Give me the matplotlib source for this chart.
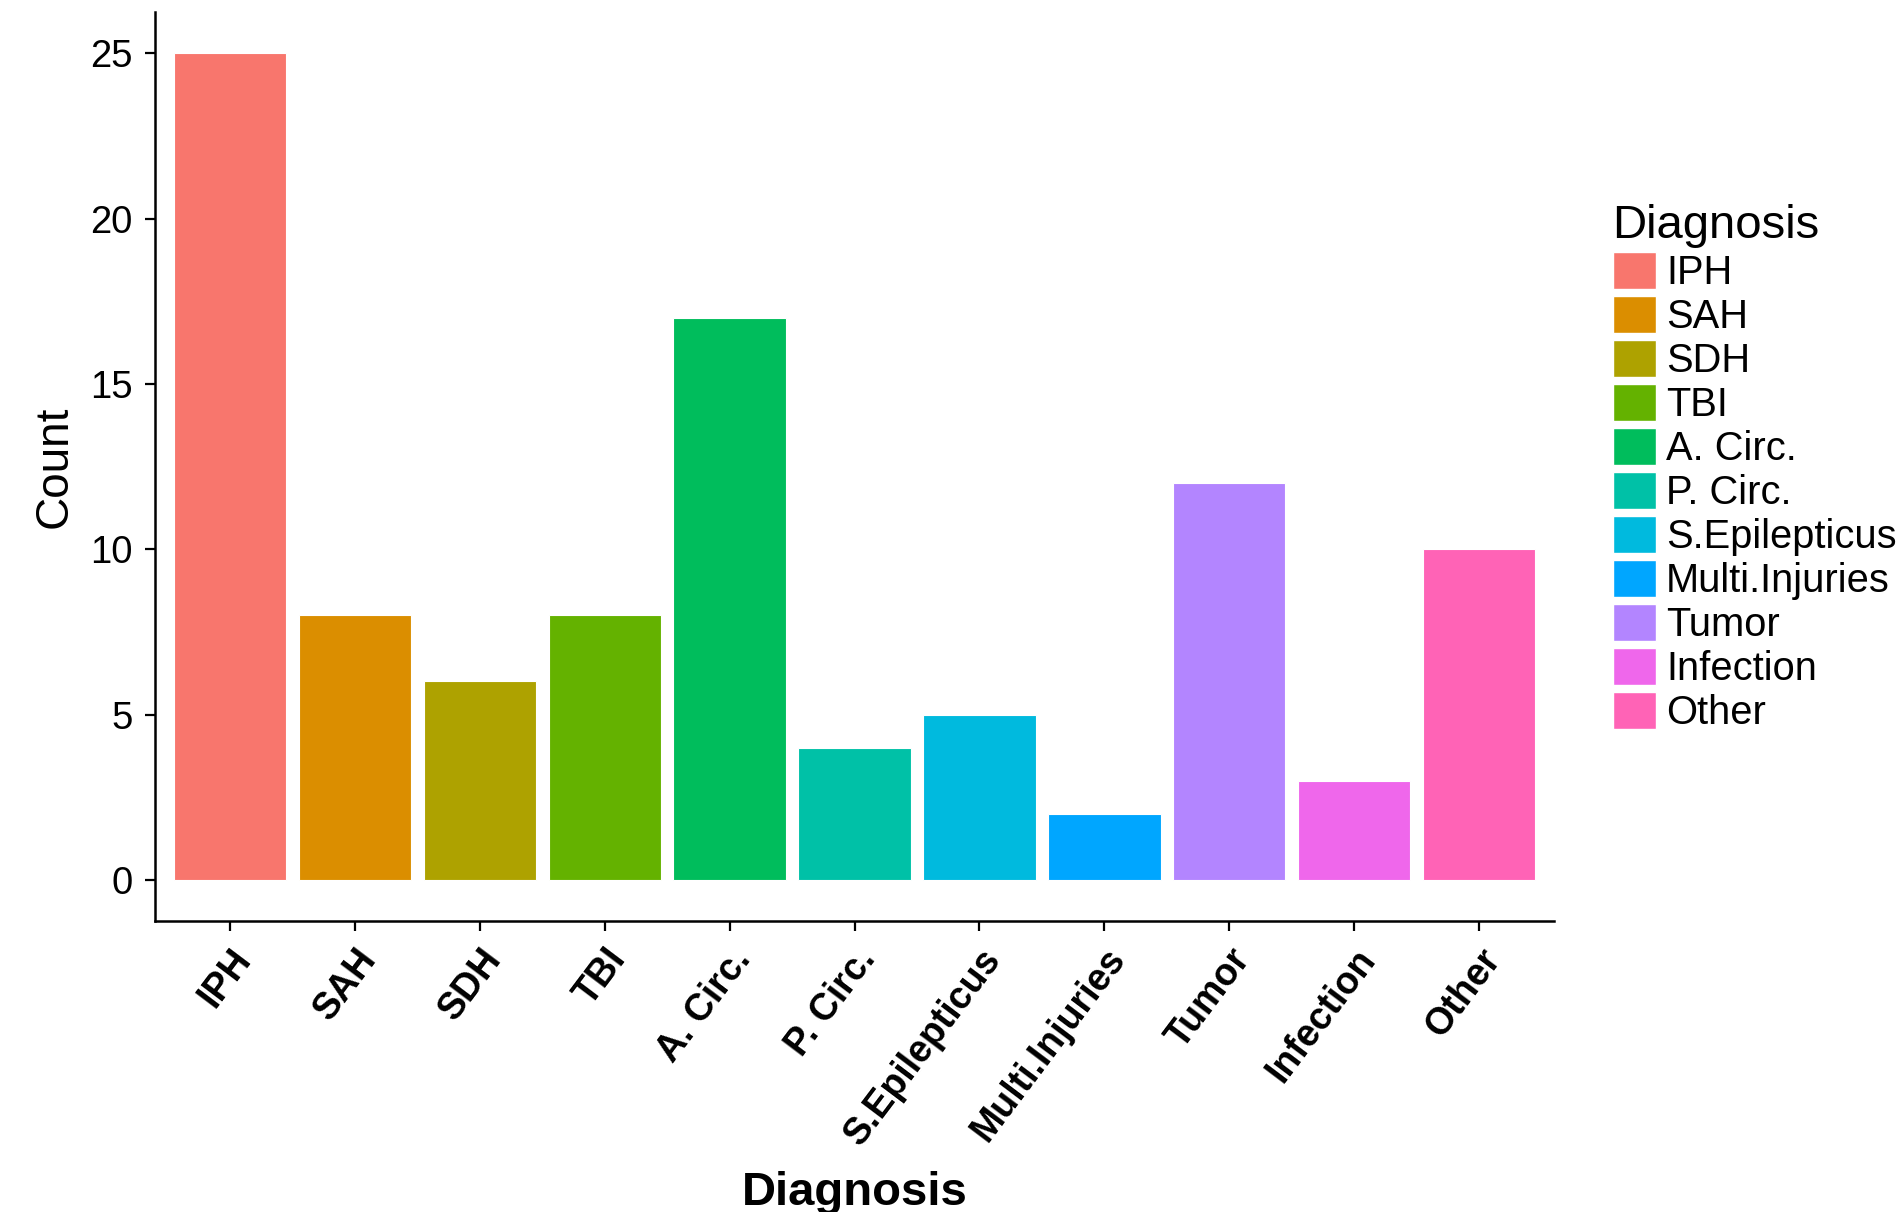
import matplotlib.pyplot as plt
from matplotlib.patches import Patch

plt.rcParams['font.family'] = ['Liberation Sans', 'DejaVu Sans']

diagnoses = ["IPH", "SAH", "SDH", "TBI", "A. Circ.", "P. Circ.", "S.Epilepticus",
             "Multi.Injuries", "Tumor", "Infection", "Other"]
counts = [25, 8, 6, 8, 17, 4, 5, 2, 12, 3, 10]
colors = ["#F8766D", "#DB8E00", "#AEA200", "#64B200", "#00BD5C", "#00C1A7",
          "#00BADE", "#00A6FF", "#B385FF", "#EF67EB", "#FF63B6"]

fig = plt.figure(figsize=(18.96, 12.12), dpi=100)
ax = fig.add_axes([0.0818, 0.240, 0.7378, 0.750])

x = range(len(diagnoses))
ax.bar(x, counts, width=0.9, color=colors, edgecolor="white", linewidth=0.8)

ax.set_xlim(-0.6, len(diagnoses) - 0.4)
ax.set_ylim(-1.25, 26.25)
ax.set_yticks([0, 5, 10, 15, 20, 25])
ax.set_xticks(list(x))
ax.set_xticklabels(diagnoses, rotation=53, ha="right", va="top",
                   rotation_mode="anchor", fontweight="bold", fontsize=27)

for s in ["top", "right"]:
    ax.spines[s].set_visible(False)
for s in ["left", "bottom"]:
    ax.spines[s].set_linewidth(1.8)
ax.tick_params(axis="both", length=7, width=1.6, colors="black")
ax.tick_params(axis="y", labelsize=27.5, pad=9)
ax.tick_params(axis="x", pad=8)

ax.set_ylabel("Count", fontsize=33, labelpad=10)
ax.set_xlabel("Diagnosis", fontsize=34, fontweight="bold", labelpad=14)

handles = [Patch(facecolor=c, edgecolor="white", linewidth=1.0) for c in colors]
leg = fig.legend(handles, diagnoses, title="Diagnosis", loc="upper left",
                 bbox_to_anchor=(0.8505, 0.832), frameon=False, fontsize=28.7,
                 title_fontsize=34, handlelength=1.09, handleheight=1.05,
                 labelspacing=0.10, handletextpad=0.25, borderpad=0,
                 borderaxespad=0, alignment="left")

fig.savefig("out.png", dpi=100)
